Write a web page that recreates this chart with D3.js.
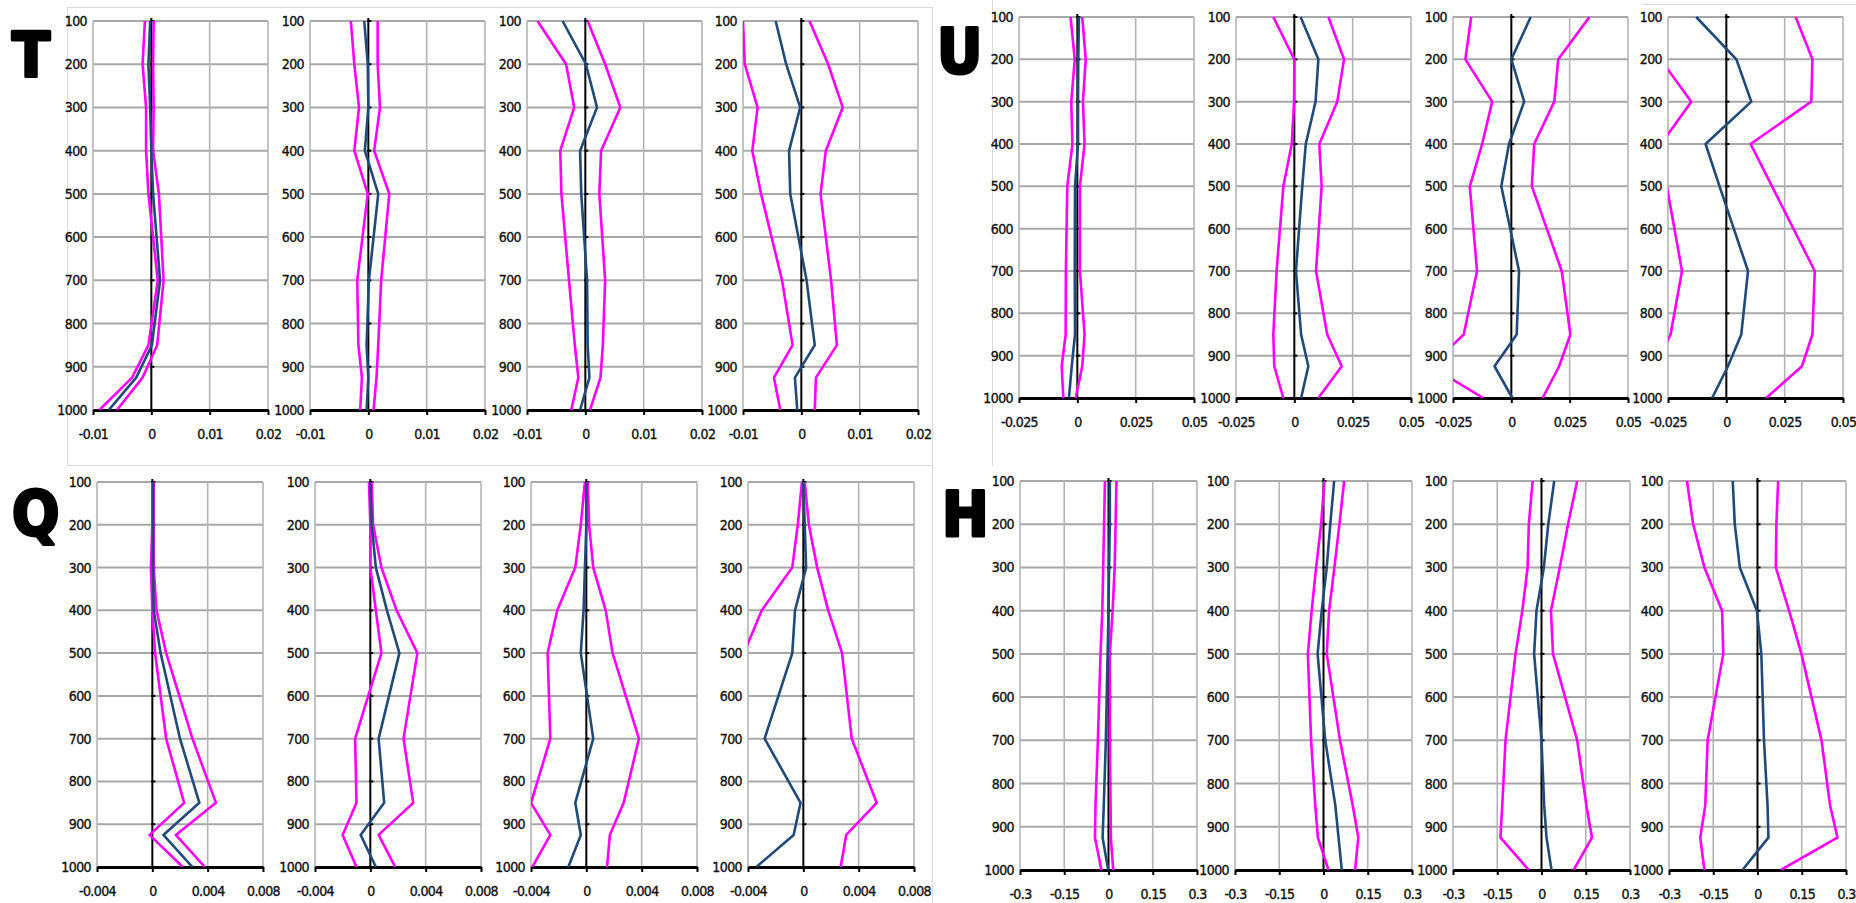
<!DOCTYPE html>
<html>
<head>
<meta charset="utf-8">
<script src="https://cdn.jsdelivr.net/npm/d3@7"></script>
<style>
  body { margin: 0; background: #fff; }
  svg text { font-family: "Liberation Sans Narrow", "DejaVu Sans Condensed", sans-serif; }
  .tick text { font-size: 14px; letter-spacing: -0.6px; fill: #111; stroke: #111; stroke-width: 0.35px; }
</style>
</head>
<body>
<svg id="chart"></svg>
<script>
// pressure levels (hPa) where the profiles are sampled
const levels = [100, 200, 300, 400, 500, 700, 850, 925, 1000];
const pressureTicks = [100, 200, 300, 400, 500, 600, 700, 800, 900, 1000];

// x tick labels for each variable
const tTicks = [-0.01, 0, 0.01, 0.02];
const uTicks = [-0.025, 0, 0.025, 0.05];
const qTicks = [-0.004, 0, 0.004, 0.008];
const hTicks = [-0.3, -0.15, 0, 0.15, 0.3];

// T : mean (blue) and lower / upper bounds (magenta), one row per panel
const tMean = [
  [-0.0002, -0.0005, -0.0002, 0, 0.0003, 0.0015, 0.0001, -0.0026, -0.0073],
  [-0.0007, -0.0001, 0, -0.0006, 0.0017, 0.0001, -0.0003, 0, -0.0003],
  [-0.0039, 0.0001, 0.002, -0.0009, -0.0007, 0.0003, 0.0004, 0.0007, -0.0009],
  [-0.0044, -0.0026, -0.0002, -0.0021, -0.0019, 0.0009, 0.0023, -0.0011, -0.0007]
];
const tLower = [
  [-0.0011, -0.0015, -0.0009, -0.0009, -0.0005, 0.0011, -0.0005, -0.0033, -0.0089],
  [-0.003, -0.0024, -0.0016, -0.0024, -0.0001, -0.0019, -0.0017, -0.0011, -0.0014],
  [-0.0082, -0.0033, -0.0019, -0.0043, -0.0041, -0.0028, -0.0018, -0.0012, -0.0024],
  [-0.01, -0.0097, -0.0075, -0.0084, -0.0069, -0.0033, -0.0015, -0.0047, -0.0036]
];
const tUpper = [
  [0.0004, 0.0003, 0.0004, 0.0003, 0.0013, 0.0021, 0.001, -0.0015, -0.0059],
  [0.0016, 0.0016, 0.002, 0.001, 0.0036, 0.0022, 0.0017, 0.0014, 0.0009],
  [0.0004, 0.0034, 0.006, 0.0027, 0.0024, 0.0034, 0.003, 0.0026, 0.0008],
  [0.0014, 0.0046, 0.0071, 0.0042, 0.0033, 0.0051, 0.0061, 0.0025, 0.0023]
];

// U
const uMean = [
  [0.0007, 0.0004, 0.0003, 0.0003, -0.001, -0.0011, -0.001, -0.0024, -0.0036],
  [0.0027, 0.0103, 0.0091, 0.0049, 0.0034, 0.0007, 0.0029, 0.006, 0.0029],
  [0.0083, 0, 0.0055, -0.001, -0.0043, 0.0033, 0.0023, -0.0072, 0.0004],
  [-0.0129, 0.0043, 0.0107, -0.0089, -0.0029, 0.0093, 0.0064, 0.0007, -0.0061]
];
const uLower = [
  [-0.0029, -0.0011, -0.0026, -0.0021, -0.0043, -0.0049, -0.005, -0.0067, -0.006],
  [-0.009, 0, -0.0001, -0.0011, -0.0047, -0.0076, -0.009, -0.0086, -0.0047],
  [-0.0172, -0.0197, -0.0082, -0.0125, -0.0178, -0.0147, -0.0204, -0.0347, -0.012],
  [-0.032, -0.0282, -0.015, -0.028, -0.0255, -0.019, -0.0239, -0.0308, -0.035]
];
const uUpper = [
  [0.0021, 0.0036, 0.0024, 0.0031, 0.0011, 0.0011, 0.0031, 0.0021, -0.0007],
  [0.0146, 0.0213, 0.0184, 0.0107, 0.0117, 0.0093, 0.0141, 0.0203, 0.0103],
  [0.0335, 0.0201, 0.0184, 0.0098, 0.0088, 0.0216, 0.0253, 0.0205, 0.0134],
  [0.0297, 0.0369, 0.0364, 0.0104, 0.0196, 0.0379, 0.0369, 0.0324, 0.0171]
];

// Q
const qMean = [
  [0.00005, 0.00005, 0.00005, 0.0001, 0.0006, 0.002, 0.0034, 0.0008, 0.0029],
  [0, 0.0001, 0.0004, 0.0012, 0.0021, 0.0006, 0.001, -0.0007, 0.0004],
  [0, 0, -0.0001, -0.0002, -0.0004, 0.0005, -0.0008, -0.0004, -0.0013],
  [0, 0.0001, 0.0002, -0.0006, -0.0008, -0.0028, -0.0002, -0.0007, -0.0034]
];
const qLower = [
  [0, 0, -0.0001, 0, 0.0002, 0.001, 0.0023, -0.0002, 0.0022],
  [-0.0001, 0, 0, 0.0004, 0.0008, -0.0011, -0.001, -0.002, -0.001],
  [-0.0001, -0.0004, -0.0008, -0.0021, -0.0028, -0.0026, -0.004, -0.0026, -0.0039],
  [-0.0001, -0.0004, -0.0008, -0.003, -0.0043, -0.006, -0.006, -0.0055, -0.0065]
];
const qUpper = [
  [0.0001, 0.0001, 0.0001, 0.0003, 0.001, 0.0029, 0.0046, 0.0017, 0.0038],
  [0.0001, 0.0002, 0.0008, 0.0019, 0.0034, 0.0024, 0.0031, 0.0006, 0.0018],
  [0.0001, 0.0002, 0.0005, 0.0014, 0.0019, 0.0038, 0.0027, 0.0017, 0.0015],
  [0.0001, 0.0004, 0.001, 0.0018, 0.0028, 0.0035, 0.0053, 0.0031, 0.0027]
];

// H
const hMean = [
  [0.0045, 0.0045, 0.002, 0, -0.003, -0.009, -0.016, -0.02, -0.001],
  [0.036, 0.023, 0.011, -0.006, -0.02, 0.006, 0.04, 0.051, 0.062],
  [0.043, 0.023, 0.008, -0.017, -0.025, 0, 0.009, 0.017, 0.034],
  [-0.084, -0.077, -0.06, -0.002, 0.013, 0.022, 0.034, 0.037, -0.051]
];
const hLower = [
  [-0.012, -0.015, -0.018, -0.021, -0.027, -0.036, -0.044, -0.046, -0.024],
  [0.003, -0.008, -0.025, -0.04, -0.053, -0.042, -0.028, -0.019, 0.017],
  [-0.03, -0.043, -0.047, -0.065, -0.088, -0.122, -0.133, -0.139, -0.043],
  [-0.239, -0.218, -0.18, -0.12, -0.116, -0.169, -0.177, -0.194, -0.18]
];
const hUpper = [
  [0.027, 0.024, 0.021, 0.014, 0.0045, 0.0045, 0.007, 0.008, 0.016],
  [0.07, 0.054, 0.037, 0.019, 0.011, 0.056, 0.099, 0.118, 0.107],
  [0.121, 0.09, 0.062, 0.032, 0.039, 0.121, 0.152, 0.171, 0.109],
  [0.07, 0.064, 0.062, 0.107, 0.149, 0.217, 0.246, 0.271, 0.079]
];

// layout of the four blocks of panels
const groups = [
  { name: 'T', ticks: tTicks, mean: tMean, lower: tLower, upper: tUpper,
    lefts: [93, 310, 527, 743], width: 175, top: 21, bottom: 410, letter: [12, 77] },
  { name: 'U', ticks: uTicks, mean: uMean, lower: uLower, upper: uUpper,
    lefts: [1019, 1236, 1453, 1668], width: 175, top: 17, bottom: 398, letter: [937, 73] },
  { name: 'Q', ticks: qTicks, mean: qMean, lower: qLower, upper: qUpper,
    lefts: [97, 315, 531, 748], width: 166, top: 482, bottom: 867, letter: [12, 535] },
  { name: 'H', ticks: hTicks, mean: hMean, lower: hLower, upper: hUpper,
    lefts: [1020, 1235, 1453, 1669], width: 177, top: 481, bottom: 870, letter: [942, 536] }
];

const W = 1856, H = 903;
const svg = d3.select('#chart').attr('width', W).attr('height', H);
const defs = svg.append('defs');

// faint frames of the pasted chart blocks
const frame = svg.append('g').attr('stroke', '#dadada').attr('stroke-width', 1).attr('fill', 'none');
frame.append('rect').attr('x', 67.5).attr('y', 7.5).attr('width', 865).attr('height', 458);
frame.append('line').attr('x1', 992.5).attr('x2', 992.5).attr('y1', 0).attr('y2', 466);
frame.append('line').attr('x1', 1642).attr('x2', W).attr('y1', 4.5).attr('y2', 4.5);
frame.append('line').attr('x1', 932.5).attr('x2', 932.5).attr('y1', 466).attr('y2', H);

const pink = '#ff00ff';
const navy = '#1f4a7a';

groups.forEach((g, gi) => {
  // big variable letter
  svg.append('text')
    .attr('x', g.letter[0])
    .attr('y', g.letter[1])
    .text(g.name)
    .style('font-size', '62px')
    .style('font-weight', 'bold')
    .attr('fill', '#000')
    .attr('stroke', '#000')
    .attr('stroke-width', 3)
    .attr('stroke-linejoin', 'round');

  g.lefts.forEach((left, pi) => {
    const x = d3.scaleLinear()
      .domain([g.ticks[0], g.ticks[g.ticks.length - 1]])
      .range([left, left + g.width]);
    const y = d3.scaleLinear()
      .domain([100, 1000])
      .range([g.top, g.bottom]);

    const panel = svg.append('g');

    // horizontal gridlines
    panel.append('g').selectAll('line')
      .data(pressureTicks.slice(0, -1))
      .join('line')
        .attr('x1', left).attr('x2', left + g.width)
        .attr('y1', d => y(d)).attr('y2', d => y(d))
        .attr('stroke', '#a8a8a8')
        .attr('stroke-width', 2);

    // vertical gridlines
    panel.append('g').selectAll('line')
      .data(g.ticks.filter(t => t !== 0))
      .join('line')
        .attr('x1', d => x(d)).attr('x2', d => x(d))
        .attr('y1', g.top).attr('y2', g.bottom)
        .attr('stroke', '#b4b4b4')
        .attr('stroke-width', 1.6);

    // pressure labels
    panel.append('g')
      .attr('transform', `translate(${left},0)`)
      .call(d3.axisLeft(y).tickValues(pressureTicks).tickSize(0).tickPadding(6)
        .tickFormat(d => String(d)))
      .call(a => a.select('.domain').remove());

    // bottom axis
    panel.append('g')
      .attr('transform', `translate(0,${g.bottom})`)
      .call(d3.axisBottom(x).tickValues(g.ticks).tickSize(5).tickSizeOuter(0)
        .tickPadding(14).tickFormat(d => String(d)))
      .call(a => a.select('.domain').attr('stroke', '#000').attr('stroke-width', 3))
      .call(a => a.selectAll('.tick line').attr('stroke', '#000').attr('stroke-width', 2));

    // zero line with little ticks
    panel.append('line')
      .attr('x1', x(0)).attr('x2', x(0))
      .attr('y1', g.top - 3).attr('y2', g.bottom)
      .attr('stroke', '#000').attr('stroke-width', 2);
    panel.append('g').selectAll('line')
      .data(pressureTicks.slice(0, -1))
      .join('line')
        .attr('x1', x(0) - 1).attr('x2', x(0) + 3)
        .attr('y1', d => y(d)).attr('y2', d => y(d))
        .attr('stroke', '#000').attr('stroke-width', 2);

    // clip to the plot area
    const clipId = `clip-${gi}-${pi}`;
    defs.append('clipPath').attr('id', clipId)
      .append('rect')
        .attr('x', left).attr('y', g.top - 2)
        .attr('width', g.width).attr('height', g.bottom - g.top + 2);

    const line = d3.line()
      .x(d => x(d[1]))
      .y(d => y(d[0]));

    const series = [
      { values: g.lower[pi], color: pink },
      { values: g.upper[pi], color: pink },
      { values: g.mean[pi], color: navy }
    ];

    panel.append('g')
      .attr('clip-path', `url(#${clipId})`)
      .selectAll('path')
      .data(series)
      .join('path')
        .attr('d', s => line(levels.map((p, i) => [p, s.values[i]])))
        .attr('fill', 'none')
        .attr('stroke', s => s.color)
        .attr('stroke-width', 2.6)
        .attr('stroke-linejoin', 'round');
  });
});
</script>
</body>
</html>
